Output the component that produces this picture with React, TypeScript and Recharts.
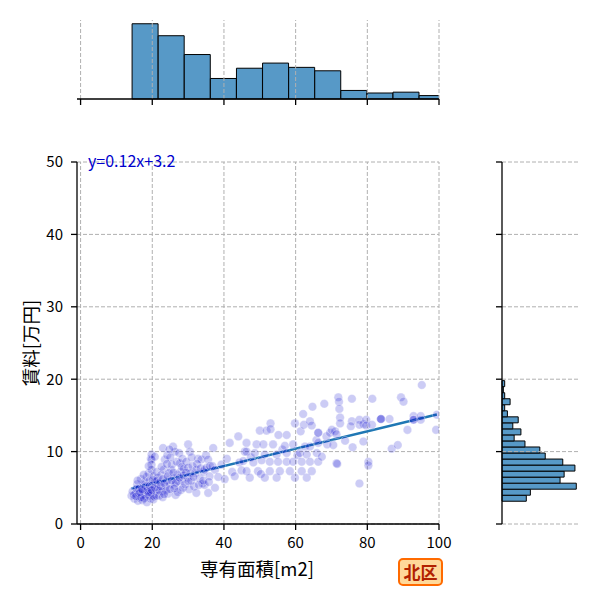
import {
  BarChart,
  Bar,
  ScatterChart,
  Scatter,
  XAxis,
  YAxis,
  ReferenceLine,
} from "recharts";

// 専有面積 / 賃料 tick values
const xTicks = [0, 20, 40, 60, 80, 100];
const yTicks = [0, 10, 20, 30, 40, 50];

// fitted line shown in the corner
const fitSlope = 0.12;
const fitIntercept = 3.2;
const fitLabel = "y=0.12x+3.2";

// top marginal histogram (専有面積)
const areaBinStart = 14.37;
const areaBinWidth = 7.28;
const areaCounts = [88, 74, 52, 24, 36, 42, 37, 33, 10, 7, 8, 4];

// right marginal histogram (賃料), bottom bin first
const rentBinStart = 3.14;
const rentBinWidth = 0.833;
const rentCounts = [18, 21, 55, 43, 46, 54, 45, 32, 28, 17, 9, 14, 8, 12, 4, 2, 6, 2, 1, 2];

// [専有面積, 賃料]
const listings: [number, number][] = [
  [14.2, 3.9], [14.5, 4.5], [15.0, 3.5], [15.3, 4.2], [15.8, 5.5], [16.0, 3.2], [16.2, 4.8], [16.5, 3.6],
  [16.5, 5.0], [16.8, 6.2], [17.0, 4.0], [17.2, 3.3], [17.5, 5.4], [17.9, 5.8], [18.0, 4.4], [18.2, 3.8],
  [18.4, 6.5], [18.5, 3.0], [18.8, 4.1], [18.8, 5.0], [19.0, 7.0], [19.2, 6.0], [19.4, 4.6], [19.5, 3.5],
  [19.6, 9.0], [19.8, 9.6], [19.8, 8.9], [19.8, 8.2], [19.8, 7.5], [20.0, 5.3], [20.2, 4.0], [20.4, 6.6],
  [20.5, 3.8], [20.7, 9.3], [20.8, 5.8], [21.0, 4.8], [21.2, 7.2], [21.4, 5.5], [21.6, 4.8], [21.5, 6.4],
  [14.8, 4.0], [15.5, 3.8], [15.6, 4.9], [16.3, 4.2], [16.9, 3.7], [17.3, 4.6], [17.7, 3.5], [18.1, 5.2],
  [18.6, 4.6], [19.1, 3.9], [19.3, 5.3], [19.7, 4.3], [20.1, 6.1], [20.3, 3.4], [20.6, 5.0], [21.1, 3.9],
  [21.3, 6.0], [19.0, 8.0], [17.6, 6.8], [15.9, 6.0], [16.6, 4.4], [18.9, 4.4], [17.1, 4.8], [19.9, 4.7],
  [21.9, 3.9], [22.2, 5.8], [22.5, 6.8], [22.8, 4.5], [23.0, 10.5], [23.2, 7.5], [23.5, 8.9], [23.7, 5.2],
  [24.0, 6.0], [24.2, 9.5], [24.4, 4.2], [24.6, 7.0], [25.0, 5.5], [25.3, 7.5], [25.5, 8.2], [25.8, 10.7],
  [26.0, 6.3], [26.3, 10.0], [26.3, 5.3], [26.5, 4.0], [26.8, 8.6], [27.0, 6.8], [27.3, 5.9], [27.5, 9.8],
  [27.7, 8.4], [27.9, 7.2], [28.0, 4.7], [28.2, 6.0], [28.4, 9.0], [28.6, 5.0], [28.8, 7.6], [25.0, 9.2],
  [23.0, 6.2], [24.8, 10.3], [22.0, 4.6], [22.4, 5.2], [22.9, 3.7], [23.4, 5.6], [23.9, 4.6], [24.3, 6.6],
  [24.9, 4.8], [25.4, 6.0], [25.9, 7.1], [26.6, 5.7], [27.1, 4.4], [27.6, 6.4], [28.3, 7.9], [28.7, 6.7],
  [22.6, 7.9], [24.1, 8.3], [23.3, 4.1], [26.1, 4.9],
  [29.2, 5.5], [29.5, 8.6], [29.8, 6.4], [30.0, 7.8], [30.0, 11.0], [30.3, 4.8], [30.5, 10.0], [30.9, 6.0],
  [31.2, 8.0], [31.6, 5.2], [32.0, 7.0], [32.3, 7.5], [32.3, 4.3], [32.8, 9.0], [33.2, 6.3], [33.7, 8.9],
  [34.0, 5.6], [34.3, 7.2], [34.6, 5.4], [34.6, 7.5], [35.0, 9.5], [35.6, 8.9], [35.6, 4.3], [36.0, 6.6],
  [29.4, 7.1], [30.1, 5.9], [30.6, 7.0], [31.0, 9.2], [31.5, 6.5], [32.5, 8.3], [33.0, 5.4], [33.5, 7.7],
  [34.2, 6.0], [35.2, 7.8], [35.8, 5.8], [36.1, 8.0],
  [36.8, 8.0], [37.0, 10.5], [37.5, 5.0], [37.5, 7.5], [38.4, 6.5], [39.3, 8.2], [40.2, 6.2], [40.8, 9.0],
  [41.6, 11.2], [42.3, 7.2], [43.0, 6.6],
  [44.0, 12.1], [44.3, 8.5], [44.9, 7.4], [45.4, 8.7], [45.8, 10.0], [46.3, 11.2], [46.3, 10.0], [46.3, 7.3],
  [47.2, 6.4], [47.5, 9.2], [48.2, 8.5], [48.6, 9.8], [49.1, 11.0], [49.5, 7.3], [50.0, 12.9], [50.5, 8.8],
  [50.3, 6.9],
  [51.0, 11.0], [51.4, 9.6], [51.4, 6.4], [51.9, 12.9], [52.8, 8.6], [52.8, 7.3], [53.0, 13.9], [53.0, 13.1],
  [53.7, 11.0], [54.7, 9.6], [54.7, 6.4], [55.1, 8.6], [55.2, 12.3], [55.6, 7.3], [56.3, 10.3], [57.0, 10.8],
  [57.5, 12.3], [57.5, 9.8], [57.5, 8.6],
  [58.4, 7.3], [59.3, 11.0], [59.3, 8.6], [59.8, 13.9], [59.8, 6.4], [60.5, 9.5], [61.2, 9.8], [61.4, 12.8],
  [61.7, 8.6], [61.7, 7.3], [62.1, 15.2], [62.3, 13.7], [62.6, 10.7], [63.1, 9.6], [63.1, 6.4], [64.0, 14.2],
  [64.7, 16.2], [64.0, 10.7], [64.5, 13.6], [64.5, 7.3], [64.0, 8.6],
  [65.8, 11.6], [65.9, 9.8], [66.3, 12.6], [66.3, 12.6], [66.3, 11.2], [66.3, 8.6], [67.3, 9.3], [68.0, 16.6],
  [68.6, 12.1], [68.8, 11.0], [69.6, 12.6], [70.1, 13.0], [70.5, 10.9], [71.0, 12.8], [71.4, 12.4], [71.4, 8.4],
  [71.6, 8.3], [71.9, 17.5], [72.1, 16.9], [72.2, 15.9], [72.4, 14.7], [72.4, 13.9],
  [73.8, 11.5], [75.7, 17.3], [75.7, 14.2], [75.4, 13.5], [75.9, 10.6], [77.8, 14.4], [77.8, 13.7], [77.8, 5.6],
  [78.9, 13.8], [78.9, 11.4], [79.7, 14.4], [79.7, 13.6],
  [80.3, 8.6], [80.3, 8.1], [81.3, 13.7], [81.4, 17.3], [83.8, 14.5], [83.8, 14.5], [83.8, 14.5], [86.2, 14.5],
  [86.8, 10.4],
  [88.5, 10.9], [89.4, 17.5], [90.1, 16.9], [91.2, 13.0], [92.9, 14.9], [92.9, 14.4], [92.9, 14.4],
  [94.9, 14.9], [94.9, 14.4], [95.2, 19.2], [99.2, 13.0], [99.4, 15.1],
];

const points = listings.map(([x, y]) => ({ x, y }));
const fitStart = Math.min(...listings.map((p) => p[0]));
const fitEnd = Math.max(...listings.map((p) => p[0]));

const areaBins = areaCounts.map((count, i) => ({ mid: areaBinStart + (i + 0.5) * areaBinWidth, count }));
const rentBins = rentCounts.map((count, i) => ({ mid: rentBinStart + (i + 0.5) * rentBinWidth, count }));

const FONT = "'Noto Sans CJK JP', 'Noto Sans', sans-serif";
const GRID = "#b0b0b0";
const HIST_FILL = "#5799c7";
const AXIS = { stroke: "#000", strokeWidth: 1.3 };
const TICK_TEXT = { fill: "#000", fontSize: 15, fontFamily: FONT };

const Dot = (props: any) => (
  <circle
    cx={props.cx}
    cy={props.cy}
    r={4.3}
    fill="#0000cd"
    fillOpacity={0.2}
    stroke="#fff"
    strokeOpacity={0.4}
    strokeWidth={0.8}
  />
);

function TopHist() {
  const yMax = Math.max(...areaCounts) * 1.05;
  return (
    <BarChart
      width={600}
      height={126}
      data={areaBins}
      barCategoryGap={0}
      barGap={0}
      margin={{ top: 20, right: 161, bottom: 0, left: 77 }}
    >
      <XAxis
        type="number"
        dataKey="mid"
        domain={[-1, 100]}
        ticks={xTicks}
        allowDataOverflow
        height={27}
        tickSize={6}
        tickFormatter={() => ""}
        axisLine={AXIS}
        tickLine={AXIS}
      />
      <YAxis type="number" domain={[0, yMax]} hide />
      <Bar dataKey="count" fill={HIST_FILL} stroke="#000" strokeWidth={1} isAnimationActive={false} />
      {xTicks.map((t) => (
        <ReferenceLine key={t} x={t} stroke={GRID} strokeDasharray="4 2" />
      ))}
    </BarChart>
  );
}

function RightHist() {
  const xMax = Math.max(...rentCounts) * 1.05;
  return (
    <BarChart
      width={140}
      height={600}
      data={rentBins}
      layout="vertical"
      barCategoryGap={0}
      barGap={0}
      margin={{ top: 162, right: 20, bottom: 76, left: 22 }}
    >
      <XAxis type="number" domain={[0, xMax]} hide />
      <YAxis
        type="number"
        dataKey="mid"
        domain={[0, 50]}
        ticks={yTicks}
        reversed
        allowDataOverflow
        width={20}
        tickSize={6}
        tickFormatter={() => ""}
        axisLine={AXIS}
        tickLine={AXIS}
      />
      <Bar dataKey="count" fill={HIST_FILL} stroke="#000" strokeWidth={1} isAnimationActive={false} />
      {yTicks.map((t) => (
        <ReferenceLine key={t} y={t} stroke={GRID} strokeDasharray="4 2" />
      ))}
    </BarChart>
  );
}

function MainScatter() {
  return (
    <ScatterChart width={600} height={600} margin={{ top: 162, right: 161, bottom: 46, left: 31 }}>
      <XAxis
        type="number"
        dataKey="x"
        domain={[-1, 100]}
        ticks={xTicks}
        allowDataOverflow
        height={30}
        tickSize={6}
        tickMargin={7}
        tick={TICK_TEXT}
        axisLine={AXIS}
        tickLine={AXIS}
      />
      <YAxis
        type="number"
        dataKey="y"
        domain={[0, 50]}
        ticks={yTicks}
        allowDataOverflow
        width={46}
        tickSize={6}
        tickMargin={8}
        tick={TICK_TEXT}
        axisLine={AXIS}
        tickLine={AXIS}
      />
      {xTicks.map((t) => (
        <ReferenceLine key={"x" + t} x={t} stroke={GRID} strokeDasharray="4 2" />
      ))}
      {yTicks.map((t) => (
        <ReferenceLine key={"y" + t} y={t} stroke={GRID} strokeDasharray="4 2" />
      ))}
      <Scatter data={points} shape={Dot} isAnimationActive={false} />
      <ReferenceLine
        segment={[
          { x: fitStart, y: fitIntercept + fitSlope * fitStart },
          { x: fitEnd, y: fitIntercept + fitSlope * fitEnd },
        ]}
        stroke="#1f77b4"
        strokeWidth={2.5}
      />
    </ScatterChart>
  );
}

export default function App() {
  return (
    <div
      style={{
        position: "absolute",
        left: 0,
        top: 0,
        width: 600,
        height: 600,
        background: "#fff",
        fontFamily: FONT,
        overflow: "hidden",
      }}
    >
      <div style={{ position: "absolute", left: 0, top: 0 }}>
        <MainScatter />
      </div>
      <div style={{ position: "absolute", left: 0, top: 0 }}>
        <TopHist />
      </div>
      <div style={{ position: "absolute", left: 460, top: 0 }}>
        <RightHist />
      </div>
      <div
        style={{
          position: "absolute",
          left: 88,
          top: 150,
          fontSize: 16,
          lineHeight: "20px",
          color: "#0000cd",
          whiteSpace: "nowrap",
        }}
      >
        {fitLabel}
      </div>
      <div
        style={{
          position: "absolute",
          left: 157,
          top: 555,
          width: 200,
          textAlign: "center",
          fontSize: 18.5,
          lineHeight: "26px",
          color: "#000",
        }}
      >
        専有面積[m2]
      </div>
      <div
        style={{
          position: "absolute",
          left: -70,
          top: 330,
          width: 200,
          textAlign: "center",
          fontSize: 18.5,
          lineHeight: "26px",
          color: "#000",
          transform: "rotate(-90deg)",
        }}
      >
        賃料[万円]
      </div>
      <div
        style={{
          position: "absolute",
          left: 398,
          top: 558,
          width: 41,
          height: 24,
          border: "2px solid #ff6a00",
          borderRadius: 5,
          background: "#ffd99a",
          color: "#b22200",
          fontWeight: "bold",
          fontSize: 17,
          lineHeight: "24px",
          textAlign: "center",
        }}
      >
        北区
      </div>
    </div>
  );
}
